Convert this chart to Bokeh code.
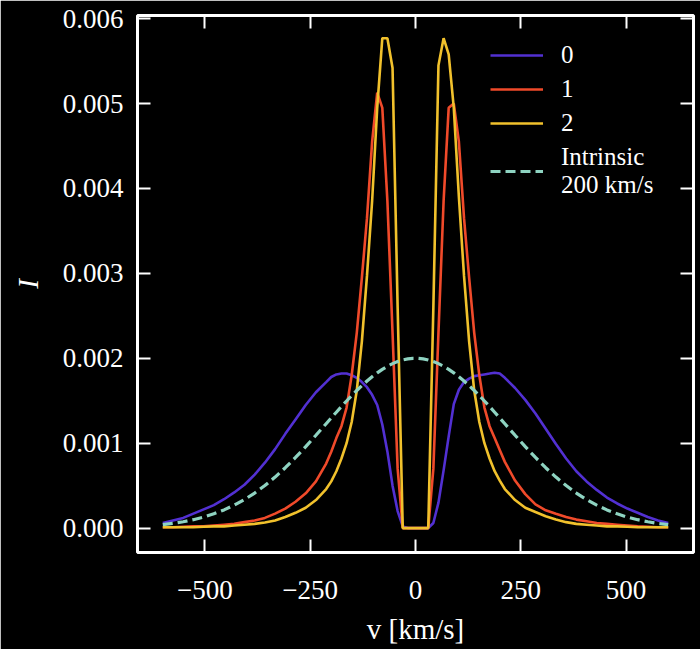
from bokeh.plotting import figure
from bokeh.models import (LinearAxis, FixedTicker, PrintfTickFormatter, Legend, LegendItem)
from bokeh.embed import file_html
from bokeh.resources import INLINE

# velocity grid [km/s]
V = [-600.0, -575.8, -551.5, -527.3, -503.0, -478.8, -454.5, -430.3, -406.1, -381.8,
     -357.6, -333.3, -309.1, -284.8, -260.6, -236.4, -212.1, -200.0, -187.9, -175.8,
     -163.6, -151.5, -139.4, -127.3, -115.2, -103.0, -90.9, -78.8, -66.7, -54.5,
     -42.4, -30.3, -18.2, -6.1,
     6.1, 18.2, 30.3, 42.4, 54.5, 66.7, 78.8, 90.9, 103.0, 115.2,
     127.3, 139.4, 151.5, 163.6, 175.8, 187.9, 200.0, 212.1, 236.4, 260.6,
     284.8, 309.1, 333.3, 357.6, 381.8, 406.1, 430.3, 454.5, 478.8, 503.0,
     527.3, 551.5, 575.8, 600.0]

# intensities in units of 1e-3
I0 = [0.06, 0.09, 0.12, 0.17, 0.22, 0.27, 0.34, 0.42, 0.51, 0.63,
      0.77, 0.93, 1.11, 1.28, 1.45, 1.60, 1.72, 1.78, 1.81, 1.82,
      1.82, 1.80, 1.77, 1.72, 1.66, 1.57, 1.45, 1.22, 0.90, 0.50,
      0.20, 0.02, 0.0, 0.0,
      0.0, 0.0, 0.0, 0.06, 0.30, 0.68, 1.08, 1.46, 1.63, 1.72,
      1.76, 1.79, 1.80, 1.81, 1.82, 1.83, 1.82, 1.77, 1.65, 1.51,
      1.35, 1.17, 0.99, 0.82, 0.67, 0.55, 0.45, 0.36, 0.29, 0.23,
      0.18, 0.13, 0.09, 0.06]

I1 = [0.01, 0.01, 0.015, 0.02, 0.02, 0.03, 0.04, 0.05, 0.07, 0.09,
      0.12, 0.17, 0.23, 0.31, 0.41, 0.55, 0.76, 0.90, 1.06, 1.20,
      1.42, 1.80, 2.30, 2.95, 3.65, 4.55, 5.13, 4.95, 3.85, 2.30,
      0.70, 0.0, 0.0, 0.0,
      0.0, 0.0, 0.0, 0.70, 2.30, 3.85, 4.95, 5.00, 4.55, 3.65,
      2.95, 2.30, 1.80, 1.42, 1.20, 1.06, 0.92, 0.78, 0.56, 0.40,
      0.28, 0.21, 0.17, 0.13, 0.10, 0.08, 0.06, 0.05, 0.04, 0.03,
      0.02, 0.015, 0.01, 0.01]

I2 = [0.01, 0.01, 0.01, 0.01, 0.015, 0.02, 0.02, 0.03, 0.04, 0.05,
      0.065, 0.09, 0.13, 0.18, 0.24, 0.33, 0.46, 0.55, 0.67, 0.82,
      1.00, 1.25, 1.62, 2.20, 2.97, 3.85, 4.95, 5.77, 5.77, 5.42,
      2.60, 0.0, 0.0, 0.0,
      0.0, 0.0, 0.0, 2.60, 5.45, 5.77, 5.58, 4.95, 3.90, 2.97,
      2.20, 1.62, 1.25, 1.00, 0.82, 0.67, 0.56, 0.46, 0.33, 0.24,
      0.19, 0.14, 0.10, 0.07, 0.05, 0.04, 0.03, 0.02, 0.02, 0.015,
      0.01, 0.01, 0.01, 0.01]

I_intr = [0.041, 0.055, 0.075, 0.099, 0.129, 0.168, 0.214, 0.270, 0.336, 0.413,
          0.501, 0.601, 0.711, 0.832, 0.959, 1.093, 1.229, 1.297, 1.365, 1.432,
          1.497, 1.560, 1.621, 1.678, 1.732, 1.783, 1.829, 1.870, 1.906, 1.937,
          1.961, 1.980, 1.993, 1.999,
          1.999, 1.993, 1.980, 1.961, 1.937, 1.906, 1.870, 1.829, 1.783, 1.732,
          1.678, 1.621, 1.560, 1.497, 1.432, 1.365, 1.297, 1.229, 1.093, 0.959,
          0.832, 0.711, 0.601, 0.501, 0.413, 0.336, 0.270, 0.214, 0.168, 0.129,
          0.099, 0.075, 0.055, 0.041]

SERIES_LABELS = ["0", "1", "2", "Intrinsic\n200 km/s"]
COLORS = ["#5230d2", "#f04a2a", "#f1c12c", "#8ed3c1"]

X_TICKS = [-500, -250, 0, 250, 500]
X_TICK_LABELS = ["\u2212500", "\u2212250", "0", "250", "500"]
Y_TICKS = [0.0, 0.001, 0.002, 0.003, 0.004, 0.005, 0.006]

SCALE = 1e-3
FONT = "Liberation Serif"

p = figure(width=700, height=649, x_range=(-660, 660), y_range=(-0.0002875, 0.0060375),
           output_backend="svg", toolbar_location=None,
           min_border_left=137, min_border_right=7, min_border_top=15, min_border_bottom=97,
           background_fill_color="black", border_fill_color="black")
p.grid.visible = False
p.outline_line_color = "white"
p.outline_line_width = 3
p.outline_line_alpha = 1.0

renderers = []
for vals, col in zip([I0, I1, I2], COLORS[:3]):
    r = p.line(V, [v * SCALE for v in vals], line_color=col, line_width=2.6)
    renderers.append(r)
r = p.line(V, [v * SCALE for v in I_intr], line_color=COLORS[3], line_width=3.2, line_dash="10 5")
renderers.append(r)


def style_axis(ax):
    ax.axis_line_color = None
    ax.major_tick_line_color = "white"
    ax.major_tick_line_width = 2
    ax.major_tick_in = 13
    ax.major_tick_out = 0
    ax.minor_tick_line_color = None
    ax.major_label_text_color = "white"
    ax.major_label_text_font = FONT
    ax.axis_label_text_color = "white"
    ax.axis_label_text_font = FONT


xax = p.xaxis[0]
yax = p.yaxis[0]
xax.ticker = FixedTicker(ticks=X_TICKS)
xax.major_label_overrides = {t: s for t, s in zip(X_TICKS, X_TICK_LABELS)}
yax.ticker = FixedTicker(ticks=Y_TICKS)
yax.formatter = PrintfTickFormatter(format="%.3f")
style_axis(xax)
style_axis(yax)
xax.major_label_text_font_size = "27px"
yax.major_label_text_font_size = "27px"
xax.major_label_standoff = 28
yax.major_label_standoff = 14
xax.axis_label = "v [km/s]"
xax.axis_label_text_font_size = "29px"
xax.axis_label_text_font_style = "normal"
xax.axis_label_standoff = 11
yax.axis_label = "I"
yax.axis_label_text_font_size = "29px"
yax.axis_label_text_font_style = "italic"
yax.axis_label_standoff = 16

# mirrored tick marks (no labels) on the top and right edges
top = LinearAxis(ticker=FixedTicker(ticks=X_TICKS))
right = LinearAxis(ticker=FixedTicker(ticks=Y_TICKS))
for ax, ticks in ((top, X_TICKS), (right, Y_TICKS)):
    style_axis(ax)
    ax.major_label_overrides = {t: "" for t in ticks}
    ax.major_label_text_color = None
    ax.major_label_standoff = 0
p.add_layout(top, "above")
p.add_layout(right, "right")

items = [LegendItem(label=lab, renderers=[rr]) for lab, rr in zip(SERIES_LABELS, renderers)]
legend = Legend(items=items, location=(353, 353),
                background_fill_alpha=0, border_line_alpha=0,
                padding=0, margin=0, spacing=6,
                glyph_width=53, glyph_height=20, label_height=20,
                label_standoff=18,
                label_text_font=FONT, label_text_font_size="25px",
                label_text_line_height=1.1,
                label_text_color="white")
p.add_layout(legend, "center")

open("out.html", "w").write(file_html(p, INLINE))
